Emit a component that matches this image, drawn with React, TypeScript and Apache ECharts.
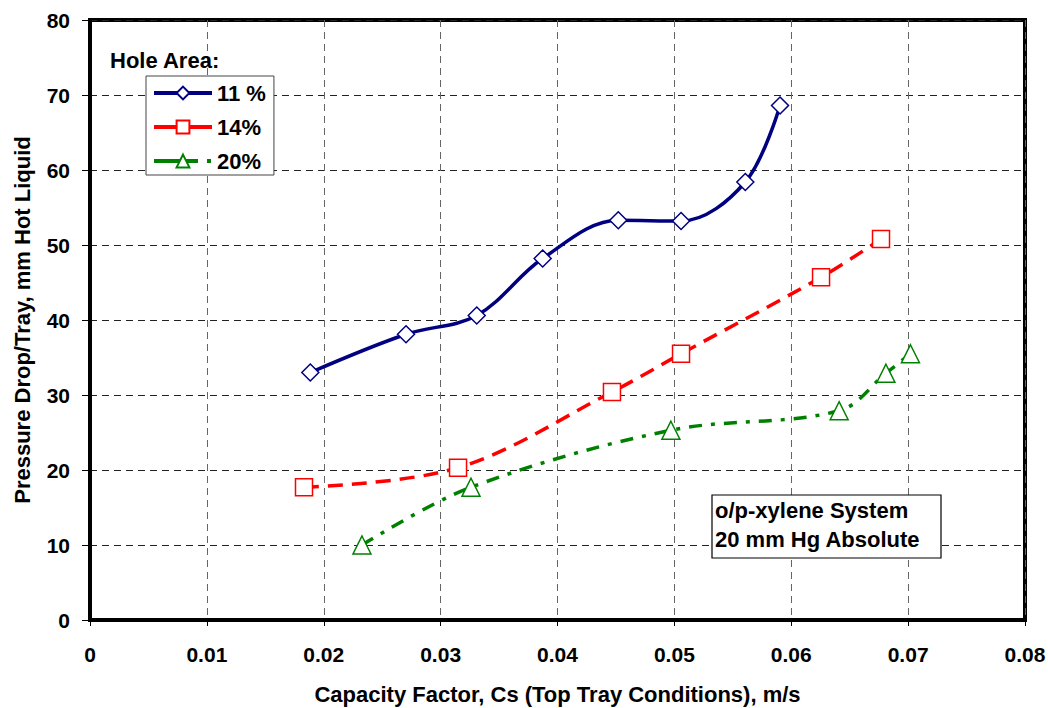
import React, { useEffect, useRef } from "react";
import * as echarts from "echarts";

const seriesNames = ["11 %", "14%", "20%"];
const blueX = [0.01885, 0.02704, 0.03309, 0.03873, 0.0452, 0.05057, 0.05607, 0.05904];
const blueY = [33.0, 38.1, 40.6, 48.2, 53.3, 53.2, 58.4, 68.6];
const redX = [0.01831, 0.03149, 0.04466, 0.05057, 0.06255, 0.06768];
const redY = [17.7, 20.3, 30.4, 35.5, 45.7, 50.8];
const greenX = [0.02327, 0.0326, 0.0497, 0.0641, 0.0681, 0.0702];
const greenY = [10.0, 17.7, 25.3, 27.9, 32.9, 35.5];
const legendTitle = "Hole Area:";
const noteLines = ["o/p-xylene System", "20 mm Hg Absolute"];
const xTitle = "Capacity Factor, Cs (Top Tray Conditions), m/s";
const yTitle = "Pressure Drop/Tray, mm Hot Liquid";

const zip = (xs: number[], ys: number[]) => xs.map((x, i) => [x, ys[i]]);

const FONT = "'Liberation Sans', Arial, sans-serif";

export default function App() {
  const ref = useRef<HTMLDivElement>(null);
  useEffect(() => {
    if (!ref.current) return;
    const chart = echarts.init(ref.current, null, { renderer: "svg" });
    chart.setOption({
      animation: false,
      backgroundColor: "#ffffff",
      textStyle: { fontFamily: FONT },
      grid: {
        left: 90,
        right: 23,
        top: 20,
        bottom: 88,
        show: true,
        borderColor: "#000",
        borderWidth: 4,
        backgroundColor: "transparent",
        outerBoundsMode: "none",
        containLabel: false,
      },
      xAxis: {
        type: "value",
        min: 0,
        max: 0.08,
        interval: 0.01,
        name: xTitle,
        nameLocation: "middle",
        nameGap: 63,
        nameTextStyle: { fontFamily: FONT, fontWeight: "bold", fontSize: 22, color: "#000" },
        axisLine: { show: true, lineStyle: { color: "#000", width: 4 } },
        axisTick: { show: true, length: 6, lineStyle: { color: "#000", width: 1 } },
        axisLabel: {
          color: "#000",
          fontWeight: "bold",
          fontSize: 21,
          fontFamily: FONT,
          margin: 24,
          formatter: (v: number) => (v === 0 ? "0" : String(Number(v.toFixed(2)))),
        },
        splitLine: { show: true, lineStyle: { color: "#666", type: [7, 5], width: 1 } },
      },
      yAxis: {
        type: "value",
        min: 0,
        max: 80,
        interval: 10,
        name: yTitle,
        nameLocation: "middle",
        nameGap: 57,
        nameTextStyle: { fontFamily: FONT, fontWeight: "bold", fontSize: 22, color: "#000" },
        axisLine: { show: true, lineStyle: { color: "#000", width: 4 } },
        axisTick: { show: true, length: 8, lineStyle: { color: "#000", width: 1 } },
        axisLabel: { color: "#000", fontWeight: "bold", fontSize: 21, fontFamily: FONT, margin: 20 },
        splitLine: { show: true, lineStyle: { color: "#222", type: [7, 5], width: 1 } },
      },
      legend: {
        orient: "vertical",
        left: 146,
        top: 76,
        backgroundColor: "#fff",
        borderColor: "#444",
        borderWidth: 1,
        padding: [6, 8, 3, 6],
        itemWidth: 58,
        itemHeight: 16,
        itemGap: 12,
        textStyle: { fontFamily: FONT, fontWeight: "bold", fontSize: 22, color: "#000" },
        data: [
          { name: seriesNames[0], lineStyle: { width: 4 } },
          { name: seriesNames[1], lineStyle: { width: 4, type: "solid" } },
          { name: seriesNames[2], lineStyle: { width: 4, type: [44, 9, 4, 10] } },
        ],
      },
      series: [
        {
          name: seriesNames[0],
          type: "line",
          data: zip(blueX, blueY),
          smooth: 0.35,
          symbol: "diamond",
          symbolSize: 17,
          lineStyle: { color: "#000080", width: 3.5, type: "solid" },
          itemStyle: { color: "#fff", borderColor: "#000080", borderWidth: 1.5 },
          z: 5,
        },
        {
          name: seriesNames[1],
          type: "line",
          data: zip(redX, redY),
          smooth: 0.35,
          symbol: "rect",
          symbolSize: 17,
          lineStyle: { color: "#ff0000", width: 3.5, type: [15, 9] },
          itemStyle: { color: "#fff", borderColor: "#ff0000", borderWidth: 1.5 },
          z: 4,
        },
        {
          name: seriesNames[2],
          type: "line",
          data: zip(greenX, greenY),
          smooth: 0.35,
          symbol: "triangle",
          symbolSize: 18,
          lineStyle: { color: "#008000", width: 3.5, type: [13, 9, 4, 9] },
          itemStyle: { color: "#fff", borderColor: "#008000", borderWidth: 1.5 },
          z: 3,
        },
      ],
      graphic: [
        {
          type: "text",
          x: 110,
          y: 60.5,
          z: 100,
          style: {
            text: legendTitle,
            font: `bold 22px ${FONT}`,
            fill: "#000",
            verticalAlign: "middle",
            align: "left",
          },
        },
        {
          type: "rect",
          z: 100,
          shape: { x: 712, y: 495, width: 229, height: 63 },
          style: { fill: "#fff", stroke: "#000", lineWidth: 1.2 },
        },
        {
          type: "text",
          x: 715,
          y: 510,
          z: 101,
          style: {
            text: noteLines[0],
            font: `bold 22px ${FONT}`,
            fill: "#000",
            verticalAlign: "middle",
          },
        },
        {
          type: "text",
          x: 715,
          y: 539,
          z: 101,
          style: {
            text: noteLines[1],
            font: `bold 22px ${FONT}`,
            fill: "#000",
            verticalAlign: "middle",
          },
        },
      ],
    });
    return () => chart.dispose();
  }, []);
  return <div ref={ref} style={{ width: 1048, height: 708, position: "absolute", left: 0, top: 0 }} />;
}
